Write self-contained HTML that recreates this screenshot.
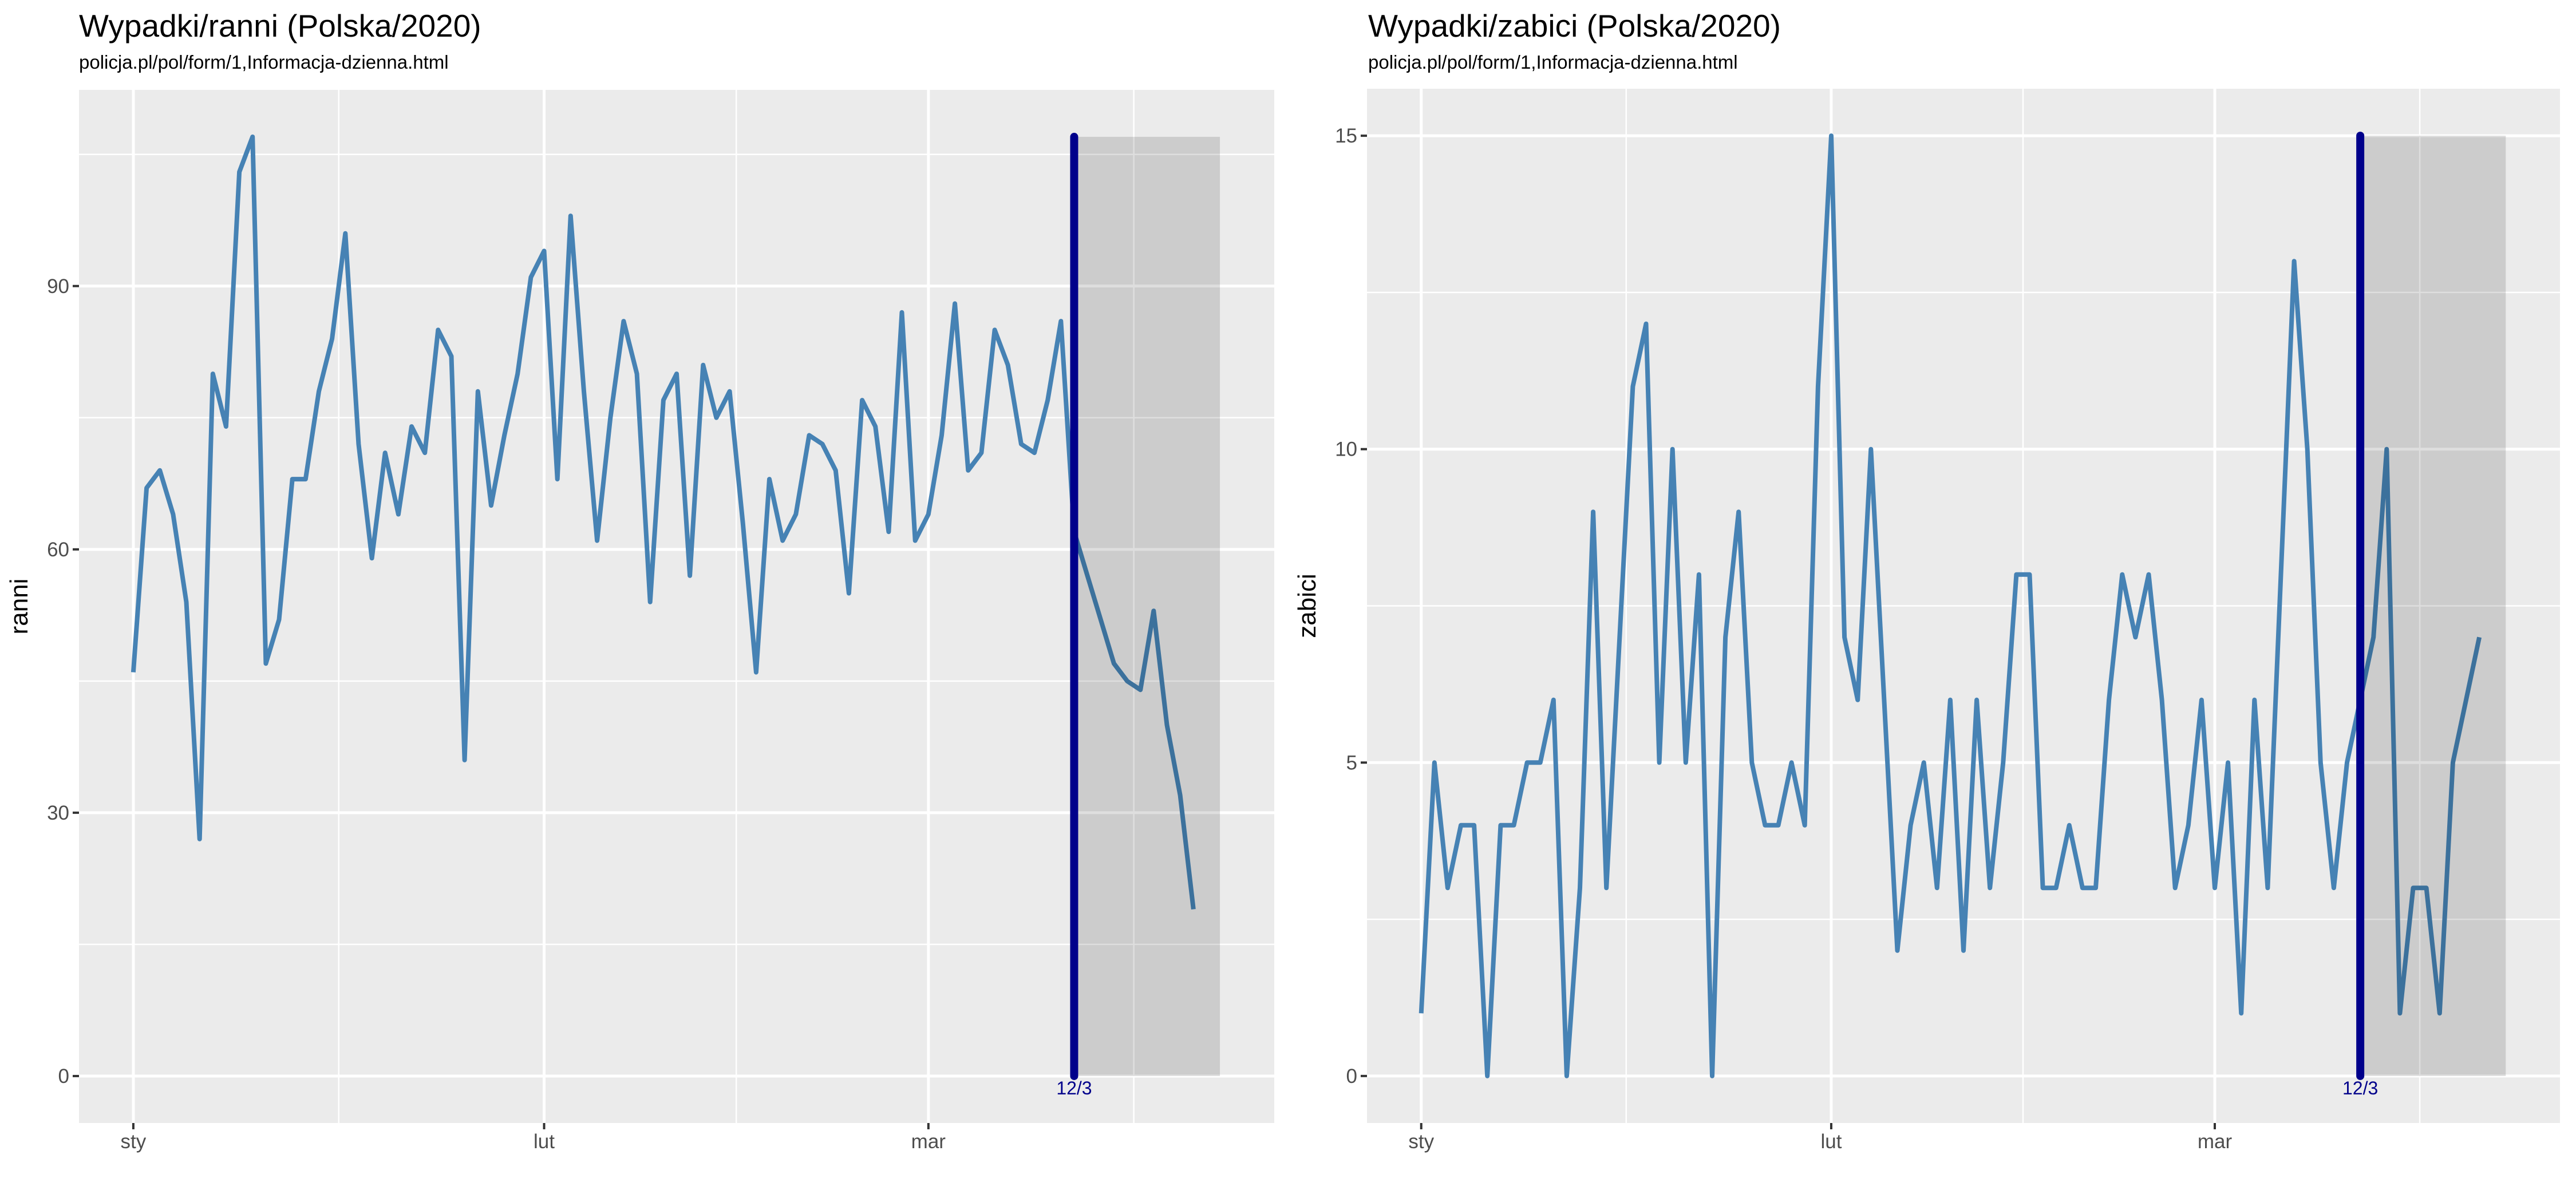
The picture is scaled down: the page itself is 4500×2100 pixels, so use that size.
<!DOCTYPE html>
<html><head><meta charset="utf-8">
<style>
html,body{margin:0;padding:0;background:#fff;}
svg{display:block;font-family:"Liberation Sans",Arial,sans-serif;}
</style></head>
<body>
<svg id="chart" width="4500" height="2100" viewBox="0 0 4500 2100" xmlns="http://www.w3.org/2000/svg">
<rect x="0" y="0" width="4500" height="2100" fill="#ffffff"/>
<text x="138" y="64" font-size="55" fill="#000">Wypadki/ranni (Polska/2020)</text>
<text x="138" y="120" font-size="33" fill="#000">policja.pl/pol/form/1,Informacja-dzienna.html</text>
<text x="2390" y="64" font-size="55" fill="#000">Wypadki/zabici (Polska/2020)</text>
<text x="2390" y="120" font-size="33" fill="#000">policja.pl/pol/form/1,Informacja-dzienna.html</text>
<g id="left-panel"></g>
<g id="right-panel"></g>
</svg>
<script>
// ---- data ----
const rannyValues = [46,67,69,64,54,27,80,74,103,107,47,52,68,68,78,84,96,72,59,71,64,74,71,85,82,36,78,65,73,80,91,94,68,98,78,61,75,86,80,54,77,80,57,81,75,78,63,46,68,61,64,73,72,69,55,77,74,62,87,61,64,73,88,69,71,85,81,72,71,77,86,62,57,52,47,45,44,53,40,32,19];
const zabiciValues = [1,5,3,4,4,0,4,4,5,5,6,0,3,9,3,7,11,12,5,10,5,8,0,7,9,5,4,4,5,4,11,15,7,6,10,6,2,4,5,3,6,2,6,3,5,8,8,3,3,4,3,3,6,8,7,8,6,3,4,6,3,5,1,6,3,8,13,10,5,3,5,6,7,10,1,3,3,1,5,6,7];
const monthTickDays = [0,31,60];
const monthTickLabels = ["sty","lut","mar"];
const minorXDays = [15.5,45.5,75.5];
const leftYTicks = [0,30,60,90];
const leftYMinor = [15,45,75,105];
const rightYTicks = [0,5,10,15];
const rightYMinor = [2.5,7.5,12.5];
const markerDay = 71;
const markerLabel = "12/3";
const shadeEndDay = 82;

const NS = "http://www.w3.org/2000/svg";
function mk(parent, tag, attrs){
  const el = document.createElementNS(NS, tag);
  for (const k in attrs) el.setAttribute(k, attrs[k]);
  parent.appendChild(el);
  return el;
}

function drawPanel(gid, L, R, T, B, values, yMajor, yMinor, yTitle, prefix){
  const g = document.getElementById(gid);
  const xmin = 0, xmax = shadeEndDay;
  const xpad = (xmax - xmin) * 0.05;
  const ymaxData = Math.max(...values);
  const ypad = ymaxData * 0.05;
  const x = d => L + (d - (xmin - xpad)) / ((xmax + xpad) - (xmin - xpad)) * (R - L);
  const y = v => B - (v - (0 - ypad)) / ((ymaxData + ypad) - (0 - ypad)) * (B - T);

  const bg = mk(g, "rect", {x:L, y:T, width:R-L, height:B-T, fill:"#ebebeb"});
  
  

  yMinor.forEach(v => {
    const l = mk(g, "line", {x1:L, x2:R, y1:y(v), y2:y(v), stroke:"#fff", "stroke-width":2.5});
    
    
  });
  minorXDays.forEach(d => {
    const l = mk(g, "line", {x1:x(d), x2:x(d), y1:T, y2:B, stroke:"#fff", "stroke-width":2.5});
    
    
  });
  yMajor.forEach(v => {
    const l = mk(g, "line", {x1:L, x2:R, y1:y(v), y2:y(v), stroke:"#fff", "stroke-width":5});
    
    
    const t = mk(g, "line", {x1:L-11, x2:L, y1:y(v), y2:y(v), stroke:"#333", "stroke-width":4});
    
    
    const tx = mk(g, "text", {x:L-17, y:y(v)+12, "font-size":35, fill:"#4d4d4d", "text-anchor":"end"});
    tx.textContent = String(v);
    
    
  });
  monthTickDays.forEach((d, i) => {
    const l = mk(g, "line", {x1:x(d), x2:x(d), y1:T, y2:B, stroke:"#fff", "stroke-width":5});
    
    
    const t = mk(g, "line", {x1:x(d), x2:x(d), y1:B, y2:B+11, stroke:"#333", "stroke-width":4});
    
    
    const tx = mk(g, "text", {x:x(d), y:B+44, "font-size":35, fill:"#4d4d4d", "text-anchor":"middle"});
    tx.textContent = monthTickLabels[i];
    
    
  });

  let dstr = "";
  values.forEach((v, i) => { dstr += (i ? "L" : "M") + x(i).toFixed(1) + "," + y(v).toFixed(1); });
  const line = mk(g, "path", {d:dstr, fill:"none", stroke:"#4682b4", "stroke-width":8, "stroke-linejoin":"round"});
  
  

  const shade = mk(g, "rect", {x:x(markerDay), y:y(ymaxData), width:x(shadeEndDay)-x(markerDay), height:y(0)-y(ymaxData), fill:"#000", "fill-opacity":0.13});
  
  

  const vl = mk(g, "line", {x1:x(markerDay), x2:x(markerDay), y1:y(0), y2:y(ymaxData), stroke:"#00008b", "stroke-width":14, "stroke-linecap":"round"});
  
  
  const ml = mk(g, "text", {x:x(markerDay), y:y(0)+32, "font-size":32, fill:"#00008b", "text-anchor":"middle"});
  ml.textContent = markerLabel;
  
  

  const yt = mk(g, "text", {x:0, y:0, "font-size":44, fill:"#000", "text-anchor":"middle", transform:"translate(" + (L-90) + "," + ((T+B)/2) + ") rotate(-90)"});
  yt.textContent = yTitle;
  
  
}

drawPanel("left-panel", 138, 2226, 157, 1962, rannyValues, leftYTicks, leftYMinor, "ranni", "left");
drawPanel("right-panel", 2388, 4472, 155, 1962, zabiciValues, rightYTicks, rightYMinor, "zabici", "right");
</script>
</body></html>
